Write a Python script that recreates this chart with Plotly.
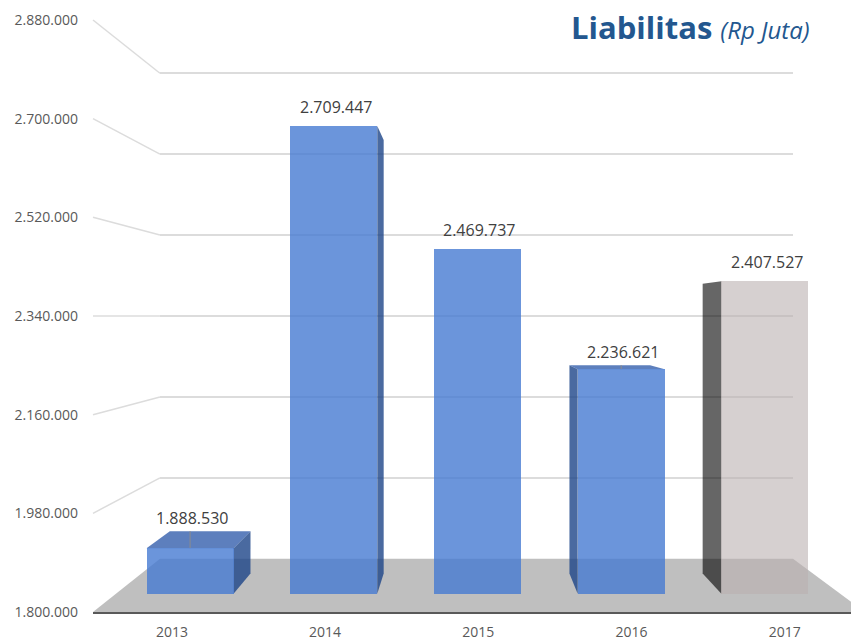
import plotly.graph_objects as go

# ---------------- data ----------------
years = ["2013", "2014", "2015", "2016", "2017"]
liabilities = [1888530, 2709447, 2469737, 2236621, 2407527]
value_ticks = [1800000, 1980000, 2160000, 2340000, 2520000, 2700000, 2880000]
title_main = "Liabilitas"
title_unit = "(Rp Juta)"


def fmt(v):
    return f"{v:,}".replace(",", ".")


tick_text = [fmt(v) for v in value_ticks]
label_text = [fmt(v) for v in liabilities]

# ---------------- styling / 3D projection ----------------
W, H = 851, 644
V_MIN, V_MAX = value_ticks[0], value_ticks[-1]
FRONT_Y_MIN, FRONT_Y_MAX = 612, 20        # front plane rows of V_MIN / V_MAX
FRONT_X_LEFT, FRONT_X_RIGHT = 93, 865      # floor front edge
VP_X, VP_Y = 465, 316                      # vanishing point
S_BACK = 0.82                              # back wall scale
S_BAR = 0.938                              # bar front face scale
R_DEPTH = 0.927                            # bar back face relative scale
CAT_X0, CAT_PITCH = 171.9, 153.2           # front-plane category centres
BAR_W = 0.6054

FONT = "Open Sans"
TICK_COLOR = "#595959"
GRID_COLOR = "#dcdcdc"
FLOOR_COLOR = "#bfbfbf"
LABEL_COLOR = "#404040"
TITLE_COLOR = "#23578f"

blue = dict(front="rgba(70,122,210,0.8)", side="rgba(29,69,136,0.8)", top="rgba(52,95,172,0.8)")
grey = dict(front="rgba(186,176,176,0.6)", side="rgba(0,0,0,0.6)", top="rgba(120,120,120,0.6)")
bar_styles = [blue, blue, blue, blue, grey]

kf = (FRONT_Y_MIN - FRONT_Y_MAX) / (V_MAX - V_MIN)


def front_py(v):
    return FRONT_Y_MIN - (v - V_MIN) * kf


def v_from_front_py(py):
    return V_MIN + (FRONT_Y_MIN - py) / kf


def proj(px, py, s):
    return VP_X + (px - VP_X) * s, VP_Y + (py - VP_Y) * s


def v_at_plane(p, s):
    return v_from_front_py(VP_Y + (p - VP_Y) / s)


def cat_at_plane(px, s):
    return ((VP_X + (px - VP_X) / s) - CAT_X0) / CAT_PITCH


def paper(px, py):
    return px / W, 1 - py / H


fig = go.Figure()

# ---- back wall (subplot xy): gridlines ----
back_l, _ = proj(FRONT_X_LEFT, FRONT_Y_MIN, S_BACK)
back_r, _ = proj(FRONT_X_RIGHT, FRONT_Y_MIN, S_BACK)
fig.add_trace(go.Scatter(x=[0], y=[V_MIN], mode="markers", marker=dict(opacity=0),
                         hoverinfo="skip", showlegend=False, xaxis="x", yaxis="y"))

# ---- front plane (subplot x2y2): tick labels + front edge ----
fig.add_trace(go.Scatter(x=[0], y=[V_MIN], mode="markers", marker=dict(opacity=0),
                         hoverinfo="skip", showlegend=False, xaxis="x2", yaxis="y2"))

# ---- bars (subplot x3y3) ----
xs = list(range(len(years)))
fig.add_trace(go.Bar(
    x=xs, y=[v - V_MIN for v in liabilities], base=V_MIN, width=BAR_W,
    marker=dict(color=[s["front"] for s in bar_styles], line=dict(width=0)),
    xaxis="x3", yaxis="y3", showlegend=False, hoverinfo="skip",
))

shapes = []
# floor
fl = [(FRONT_X_LEFT, FRONT_Y_MIN), (FRONT_X_RIGHT, FRONT_Y_MIN),
      proj(FRONT_X_RIGHT, FRONT_Y_MIN, S_BACK), proj(FRONT_X_LEFT, FRONT_Y_MIN, S_BACK)]
pts = [paper(*p) for p in fl]
shapes.append(dict(type="path", xref="paper", yref="paper", layer="below",
                   path="M " + " L ".join(f"{x},{y}" for x, y in pts) + " Z",
                   fillcolor=FLOOR_COLOR, line=dict(width=0)))
# side-wall diagonals
for v in value_ticks[1:]:
    fx, fy = FRONT_X_LEFT, front_py(v)
    bx, by = proj(fx, fy, S_BACK)
    x0, y0 = paper(fx, fy)
    x1, y1 = paper(bx, by)
    shapes.append(dict(type="line", xref="paper", yref="paper", layer="below",
                       x0=x0, y0=y0, x1=x1, y1=y1, line=dict(color=GRID_COLOR, width=1.5)))

# bar 3D faces in bar-plane data coords
VXd = (VP_X - CAT_X0) / CAT_PITCH
VYd = v_from_front_py(VP_Y)


def back(x, y):
    return VXd + (x - VXd) * R_DEPTH, VYd + (y - VYd) * R_DEPTH


def poly(points):
    return "M " + " L ".join(f"{x},{y}" for x, y in points) + " Z"


annotations = []
for i, v in enumerate(liabilities):
    xl, xr = i - BAR_W / 2, i + BAR_W / 2
    st = bar_styles[i]
    if xr < VXd:
        shapes.append(dict(type="path", xref="x3", yref="y3", layer="below",
                           path=poly([(xr, V_MIN), (xr, v), back(xr, v), back(xr, V_MIN)]),
                           fillcolor=st["side"], line=dict(width=0)))
    if xl > VXd:
        shapes.append(dict(type="path", xref="x3", yref="y3", layer="below",
                           path=poly([(xl, V_MIN), (xl, v), back(xl, v), back(xl, V_MIN)]),
                           fillcolor=st["side"], line=dict(width=0)))
    top_visible = v < VYd
    if top_visible:
        shapes.append(dict(type="path", xref="x3", yref="y3", layer="below",
                           path=poly([(xl, v), (xr, v), back(xr, v), back(xl, v)]),
                           fillcolor=st["top"], line=dict(width=0)))
        _, by = back(i, v)
        shapes.append(dict(type="line", xref="x3", yref="y3", layer="below",
                           x0=i, x1=i, y0=v, y1=by, line=dict(color="#8c8c8c", width=1)))
    # label position (pixels above topmost point of the bar)
    pf = VP_Y + (front_py(v) - VP_Y) * S_BAR
    pb = VP_Y + (pf - VP_Y) * R_DEPTH
    gap = 13 if top_visible else 19
    centre = min(pf, pb) - gap
    annotations.append(dict(x=i, y=v, xref="x3", yref="y3", text=label_text[i],
                            showarrow=False, yanchor="middle", xanchor="center",
                            yshift=pf - centre, xshift=2,
                            font=dict(family=FONT, size=16, color=LABEL_COLOR)))

tx, ty = paper(812, 27)
annotations.append(dict(
    x=tx, y=ty, xref="paper", yref="paper", xanchor="right", yanchor="middle", showarrow=False,
    text=f"<b>{title_main}</b> <i><span style='font-size:24px'>{title_unit}</span></i>",
    font=dict(family=FONT, size=31, color=TITLE_COLOR)))

fig.update_layout(
    width=W, height=H, autosize=False,
    margin=dict(l=0, r=0, t=0, b=0, pad=0),
    paper_bgcolor="white", plot_bgcolor="rgba(0,0,0,0)",
    showlegend=False,
    xaxis=dict(domain=[back_l / W, back_r / W], range=[0, 1], visible=False, fixedrange=True),
    yaxis=dict(domain=[0, 1], range=[v_at_plane(H, S_BACK), v_at_plane(0, S_BACK)],
               tickvals=value_ticks[1:], showticklabels=False, showgrid=True,
               gridcolor=GRID_COLOR, gridwidth=1.5, zeroline=False, showline=False,
               ticks="", fixedrange=True),
    xaxis2=dict(domain=[FRONT_X_LEFT / W, 1], anchor="y2",
                range=[(FRONT_X_LEFT - CAT_X0) / CAT_PITCH, (W - CAT_X0) / CAT_PITCH],
                tickmode="array", tickvals=xs, ticktext=years, showgrid=False, zeroline=False,
                showline=True, linecolor=TICK_COLOR, linewidth=2, ticks="",
                ticklabelstandoff=6, automargin=False,
                tickfont=dict(family=FONT, size=14, color=TICK_COLOR), fixedrange=True),
    yaxis2=dict(domain=[1 - FRONT_Y_MIN / H, 1], anchor="x2",
                range=[V_MIN, v_from_front_py(0)],
                tickmode="array", tickvals=value_ticks, ticktext=tick_text,
                showgrid=False, zeroline=False, showline=False, ticks="",
                ticklabelstandoff=14, automargin=False,
                tickfont=dict(family=FONT, size=14, color=TICK_COLOR), fixedrange=True),
    xaxis3=dict(domain=[0, 1], anchor="y3", range=[cat_at_plane(0, S_BAR), cat_at_plane(W, S_BAR)],
                visible=False, fixedrange=True),
    yaxis3=dict(domain=[0, 1], anchor="x3", range=[v_at_plane(H, S_BAR), v_at_plane(0, S_BAR)],
                visible=False, fixedrange=True),
    shapes=shapes,
    annotations=annotations,
    bargap=0,
)

fig.write_html(
    "out.html",
    config={"displayModeBar": False},
    post_script="document.body.style.margin='0';document.body.style.padding='0';",
)
